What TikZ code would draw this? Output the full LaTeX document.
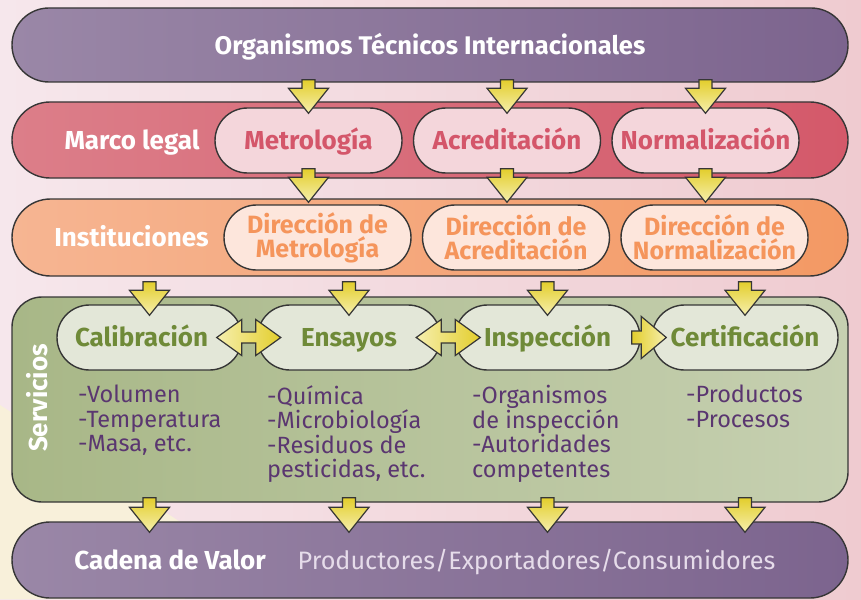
\documentclass[tikz,border=0pt]{standalone}
\usepackage{fontspec}
\setmainfont{Fira Sans}
\usetikzlibrary{calc}
\definecolor{lineC}{HTML}{363636}
\definecolor{bgL}{HTML}{F6E7EC}
\definecolor{bgR}{HTML}{EFCBD0}
\definecolor{creamC}{HTML}{F8F0DA}
\definecolor{purL}{HTML}{9A87A7}
\definecolor{purR}{HTML}{7C648E}
\definecolor{redL}{HTML}{DC7E89}
\definecolor{redR}{HTML}{D4596A}
\definecolor{redPill}{HTML}{F4D6DB}
\definecolor{redText}{HTML}{D4566A}
\definecolor{orL}{HTML}{F6B592}
\definecolor{orR}{HTML}{F39964}
\definecolor{orPill}{HTML}{FDE6DC}
\definecolor{orText}{HTML}{F5955C}
\definecolor{grL}{HTML}{A8B787}
\definecolor{grR}{HTML}{C6D0B1}
\definecolor{grPill}{HTML}{E3E7D8}
\definecolor{grText}{HTML}{6F8A38}
\definecolor{subC}{HTML}{5A3670}
\definecolor{prodC}{HTML}{E6DCEA}
\definecolor{yelD}{HTML}{E3CE2C}
\definecolor{yelL}{HTML}{F6EFAE}
\newcommand\vblock[2]{%
  \shade[varrow] let \p1=#1, \p2=#2 in
    (\x1-6.5pt,\y1) -- (\x1+6.5pt,\y1) -- (\x1+6.5pt,\y2+25pt) -- (\x1+20pt,\y2+25pt)
    -- (\x1,\y2) -- (\x1-20pt,\y2+25pt) -- (\x1-6.5pt,\y2+25pt) -- cycle;}
\newcommand\hdbl[2]{%
  \shade[harrowd] let \p1=#1, \p2=#2 in
    (\x1,\y1) -- (\x1+25pt,\y1+18pt) -- (\x1+25pt,\y1+5.5pt) -- (\x2-25pt,\y1+5.5pt)
    -- (\x2-25pt,\y1+18pt) -- (\x2,\y1) -- (\x2-25pt,\y1-18pt) -- (\x2-25pt,\y1-5.5pt)
    -- (\x1+25pt,\y1-5.5pt) -- (\x1+25pt,\y1-18pt) -- cycle;}
\newcommand\hsgl[2]{%
  \shade[harrows] let \p1=#1, \p2=#2 in
    (\x1,\y1+6.5pt) -- (\x2-25pt,\y1+6.5pt) -- (\x2-25pt,\y1+21pt) -- (\x2,\y1)
    -- (\x2-25pt,\y1-21pt) -- (\x2-25pt,\y1-6.5pt) -- (\x1,\y1-6.5pt) -- cycle;}
\begin{document}
\begin{tikzpicture}[x=1pt,y=-1pt,
  outl/.style={draw=lineC, line width=1.4pt},
  bar/.style={outl, minimum width=836pt, inner sep=0pt},
  pill/.style={outl, minimum width=187pt, minimum height=65pt, rounded corners=32.5pt, inner sep=0pt},
  hdr/.style={text=white, font=\bfseries\fontsize{26}{30}\selectfont, text height=18.5pt, text depth=0pt},
  pilltxt/.style={font=\bfseries\fontsize{26}{30}\selectfont, text height=18.5pt, text depth=0pt},
  dirtxt/.style={font=\bfseries\fontsize{25}{24}\selectfont, align=center},
  sub/.style={anchor=north west, align=left, inner sep=0pt, text=subC, font=\fontsize{23.5}{24.5}\selectfont},
  varrow/.style={top color=yelD, bottom color=yelL, draw=lineC, line width=1.2pt},
  harrowd/.style={left color=yelL, right color=yelD, draw=lineC, line width=1.2pt},
  harrows/.style={left color=yelD, right color=yelL, draw=lineC, line width=1.2pt}]
\useasboundingbox (0,0) rectangle (861,599);
\shade[left color=bgL, right color=bgR] (0,0) rectangle (861,599);
\fill[creamC] (0,405) -- (185,525) -- (185,599) -- (0,599) -- cycle;

% bars
\node[bar, minimum height=74pt, rounded corners=37pt, left color=purL, right color=purR, hdr, font=\bfseries\fontsize{25.5}{30}\selectfont] (org) at (430,45) {Organismos Técnicos Internacionales};
\node[bar, minimum height=76pt, rounded corners=38pt, left color=redL, right color=redR] (legal) at (430,140) {};
\node[bar, minimum height=77pt, rounded corners=38.5pt, left color=orL, right color=orR] (inst) at (430,237.5) {};
\node[bar, minimum height=205pt, rounded corners=30pt, left color=grL, right color=grR] (serv) at (430,399.5) {};
\node[bar, minimum height=76pt, rounded corners=38pt, left color=purL, right color=purR] (cad) at (430,560) {};

% row labels
\node[hdr] (legalT) at (132,140) {Marco legal};
\node[hdr] (instT) at (131.5,237) {Instituciones};
\node[hdr, rotate=90] (servT) at (38,398) {Servicios};
\node[hdr] (cadT) at (170,560) {Cadena de Valor};
\node[text=prodC, font=\fontsize{25.2}{30}\selectfont, text height=18pt, text depth=0pt] (prodT) at (536.5,560) {Productores/Exportadores/Consumidores};

% pills
\node[pill, fill=redPill, text=redText, pilltxt] (met) at (308.5,140.5) {Metrología};
\node[pill, fill=redPill, text=redText, pilltxt] (acr) at (507,140.5) {Acreditación};
\node[pill, fill=redPill, text=redText, pilltxt] (nor) at (705.5,140.5) {Normalización};
\node[pill, fill=orPill, text=orText, dirtxt] (dmet) at (317.5,237.5) {Dirección de\\Metrología};
\node[pill, fill=orPill, text=orText, dirtxt] (dacr) at (516,237.5) {Dirección de\\Acreditación};
\node[pill, fill=orPill, text=orText, dirtxt] (dnor) at (714.5,237.5) {Dirección de\\Normalización};
\node[pill, minimum width=185pt, fill=grPill, text=grText, pilltxt] (cal) at (149.5,337.5) {Calibración\hspace*{16pt}};
\node[pill, minimum width=183pt, fill=grPill, text=grText, pilltxt] (ens) at (349,337.5) {Ensayos};
\node[pill, minimum width=185pt, fill=grPill, text=grText, pilltxt] (insp) at (547.5,337.5) {Inspección};
\node[pill, minimum width=186pt, fill=grPill, text=grText, pilltxt] (cert) at (745,337.5) {Certificación};

% sub lists
\node[sub] (calL) at (78,385) {-Volumen\\-Temperatura\\-Masa, etc.};
\node[sub] (ensL) at (267,385) {-Química\\-Microbiología\\-Residuos de\\pesticidas, etc.};
\node[sub] (inspL) at (472,385) {-Organismos\\de inspección\\-Autoridades\\competentes};
\node[sub] (certL) at (686,385) {-Productos\\-Procesos};

% arrows row 1
\foreach \nm in {met,acr,nor}{
  \vblock{($(\nm |- org.south)+(0,-3)$)}{($(\nm.north)+(0,6)$)}
}
% arrows row 2
\foreach \nm/\nn in {met/dmet,acr/dacr,nor/dnor}{
  \vblock{($(\nm.south)+(0,-5)$)}{($(\nm.south |- \nn.north)+(0,-2)$)}
}
% arrows row 3 and 4
\foreach \nm in {cal,ens,insp,cert}{
  \vblock{($(\nm |- inst.south)+(0,5)$)}{($(\nm.north)+(0,11)$)}
  \vblock{($(\nm |- serv.south)+(0,-5)$)}{($(\nm |- cad.north)+(0,11)$)}
}
% horizontal arrows
\hdbl{($(cal.east)+(-26,0)$)}{($(ens.west)+(24,0)$)}
\hdbl{($(ens.east)+(-25,0)$)}{($(insp.west)+(26,0)$)}
\hsgl{($(insp.east)+(-9,0)$)}{($(cert.west)+(15,0)$)}
\end{tikzpicture}
\end{document}
